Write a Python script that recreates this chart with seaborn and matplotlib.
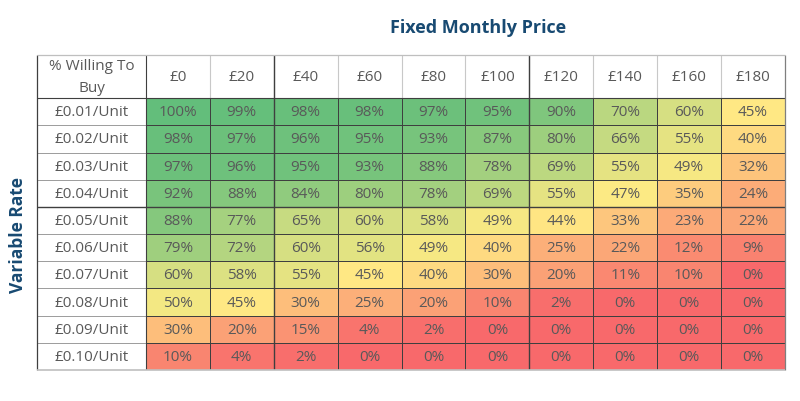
import numpy as np
import pandas as pd
import matplotlib
matplotlib.use("Agg")
import matplotlib.pyplot as plt
from matplotlib.colors import LinearSegmentedColormap, TwoSlopeNorm
import seaborn as sns

prices = ["£0", "£20", "£40", "£60", "£80", "£100", "£120", "£140", "£160", "£180"]
rates = ["£0.01/Unit", "£0.02/Unit", "£0.03/Unit", "£0.04/Unit", "£0.05/Unit",
         "£0.06/Unit", "£0.07/Unit", "£0.08/Unit", "£0.09/Unit", "£0.10/Unit"]
willing = [
    [100, 99, 98, 98, 97, 95, 90, 70, 60, 45],
    [98, 97, 96, 95, 93, 87, 80, 66, 55, 40],
    [97, 96, 95, 93, 88, 78, 69, 55, 49, 32],
    [92, 88, 84, 80, 78, 69, 55, 47, 35, 24],
    [88, 77, 65, 60, 58, 49, 44, 33, 23, 22],
    [79, 72, 60, 56, 49, 40, 25, 22, 12, 9],
    [60, 58, 55, 45, 40, 30, 20, 11, 10, 0],
    [50, 45, 30, 25, 20, 10, 2, 0, 0, 0],
    [30, 20, 15, 4, 2, 0, 0, 0, 0, 0],
    [10, 4, 2, 0, 0, 0, 0, 0, 0, 0],
]
corner_label = "% Willing To\nBuy"

TEXT = "#595959"
NAVY = "#184A72"
FS = 11

sns.set_theme(style="white")
plt.rcParams["font.family"] = ["Open Sans", "DejaVu Sans"]

df = pd.DataFrame(willing, index=rates, columns=prices)
annot = df.map(lambda v: f"{v}%")

# Excel style 3-colour scale, midpoint at the 50th percentile
cmap = LinearSegmentedColormap.from_list("rag", ["#F8696B", "#FFEB84", "#63BE7B"])
norm = TwoSlopeNorm(vmin=df.values.min(), vcenter=np.percentile(df.values, 50),
                    vmax=df.values.max())

fig = plt.figure(figsize=(8, 4.02), dpi=100)
ax = fig.add_axes([37.3 / 800, (402 - 371) / 402, (785 - 37.3) / 800, (371 - 55.7) / 402])

sns.heatmap(df, cmap=cmap, norm=norm, annot=annot, fmt="", cbar=False,
            linewidths=0.6, linecolor="#3f3f3f", ax=ax,
            annot_kws={"fontsize": FS, "color": TEXT})

head_w = 1.70
head_h = 1.60
nrow, ncol = df.shape
ax.set_xlim(-head_w, ncol)
ax.set_ylim(nrow, -head_h)
ax.set_xticks([])
ax.set_yticks([])
ax.set_xlabel("")
ax.set_ylabel("")

# header texts
for j, p in enumerate(prices):
    ax.text(j + 0.5, -head_h / 2, p, ha="center", va="center", fontsize=FS, color=TEXT)
for i, r in enumerate(rates):
    ax.text(-head_w / 2, i + 0.5, r, ha="center", va="center", fontsize=FS, color=TEXT)
ax.text(-head_w / 2, -head_h / 2, corner_label, ha="center", va="center",
        fontsize=FS, color=TEXT, linespacing=1.7)

# header cell borders
ax.vlines(range(1, ncol), -head_h, 0, color="#c8c8c8", lw=0.8)
ax.hlines(range(1, nrow), -head_w, 0, color="#8c8c8c", lw=0.6)
ax.hlines(0, -head_w, ncol, color="#3f3f3f", lw=0.8)
ax.vlines(0, -head_h, nrow, color="#3f3f3f", lw=0.8)
# slightly heavier separators
ax.vlines([2, 6], -head_h, nrow, color="#3f3f3f", lw=1.0)
ax.hlines(4, -head_w, ncol, color="#3f3f3f", lw=1.0)
# outer frame
ax.vlines([-head_w], -head_h, nrow, color="#3f3f3f", lw=0.9, clip_on=False)
ax.vlines([ncol], -head_h, nrow, color="#7f7f7f", lw=0.9, clip_on=False)
ax.hlines([-head_h], -head_w, ncol, color="#bfbfbf", lw=0.9, clip_on=False)
ax.hlines([nrow], -head_w, ncol, color="#bfbfbf", lw=1.2, clip_on=False)

fig.text(478 / 800, 1 - 28 / 402, "Fixed Monthly Price", ha="center", va="center",
         fontsize=13, fontweight="bold", color=NAVY)
fig.text(18 / 800, 1 - 235 / 402, "Variable Rate", ha="center", va="center",
         rotation=90, fontsize=12.5, fontweight="bold", color=NAVY)

fig.savefig("out.png", dpi=100)
